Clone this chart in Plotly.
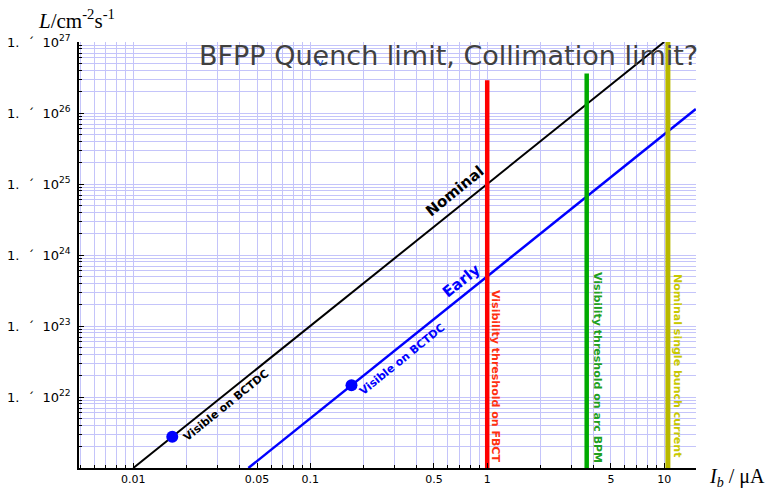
import plotly.graph_objects as go

# ---- data ----
nominal_I = [0.01, 10.0]          # µA
nominal_L = [1e21, 1e27]          # cm^-2 s^-1
early_I = [0.0447, 15.1]
early_L = [1e21, 1.14e26]
dots_I = [0.0166, 0.171]
dots_L = [2.75e21, 1.46e22]
fbct_I = [1.0, 1.0]
fbct_L = [1e21, 2.9e26]
bpm_I = [3.65, 3.65]
bpm_L = [1e21, 3.6e26]
bunch_I = [10.5, 10.5]
bunch_L = [1e21, 1e27]

x_tickvals = [0.01, 0.05, 0.1, 0.5, 1, 5, 10]
x_ticktext = ["0.01", "0.05", "0.1", "0.5", "1", "5", "10"]
y_exps = [22, 23, 24, 25, 26, 27]

# ---- layout geometry ----
W, H = 766, 495
ML, MR, MT, MB = 79, 70, 42, 27
PW, PH = W - ML - MR, H - MT - MB


def px(x):
    return (x - ML) / PW


def py(y):
    return (H - MB - y) / PH


grid_col = "#c4c4fa"
x_minor = [k * 10.0 ** e for e in range(-3, 2) for k in range(1, 10)]
y_minor = [k * 10.0 ** e for e in range(21, 27) for k in range(1, 10)]

fig = go.Figure()
fig.add_trace(go.Scatter(x=nominal_I, y=nominal_L, mode="lines",
                         line=dict(color="black", width=2), showlegend=False))
fig.add_trace(go.Scatter(x=early_I, y=early_L, mode="lines",
                         line=dict(color="#0000ff", width=2.5), showlegend=False))
fig.add_trace(go.Scatter(x=fbct_I, y=fbct_L, mode="lines",
                         line=dict(color="#ff0000", width=4.5), showlegend=False))
fig.add_trace(go.Scatter(x=bpm_I, y=bpm_L, mode="lines",
                         line=dict(color="#00aa00", width=4.5), showlegend=False))
fig.add_trace(go.Scatter(x=bunch_I, y=bunch_L, mode="lines",
                         line=dict(color="#b8b800", width=5), showlegend=False))
fig.add_trace(go.Scatter(x=dots_I, y=dots_L, mode="markers",
                         marker=dict(color="#0000ff", size=12), showlegend=False))

ann = []
bold = "DejaVu Sans"


def add_text(text, x, y, size, color, angle=0, family=bold, **kw):
    ann.append(dict(text=text, x=px(x), y=py(y), xref="paper", yref="paper",
                    showarrow=False, textangle=angle, xanchor="center",
                    yanchor="middle", font=dict(size=size, color=color, family=family), **kw))


add_text("<b>Visible on BCTDC</b>", 226, 405, 11, "black", -39)
add_text("<b>Visible on BCTDC</b>", 402, 359, 11, "#0000ff", -39)
add_text("<b>Nominal</b>", 455, 191, 15, "black", -39)
add_text("<b>Early</b>", 461, 281, 15, "#0000ff", -39)
add_text("<b>Visibility threshold on FBCT</b>", 496, 376, 11, "#ff3010", 90)
add_text("<b>Visibility threshold on arc BPM</b>", 598, 367, 11, "#20a020", 90)
add_text("<b>Nominal single bunch current</b>", 678, 365, 11, "#c8c800", 90)
add_text("BFPP Quench limit, Collimation limit?", 448, 55, 27, "#404040")
add_text("v", 320, 62, 11, "#2050d0")
add_text("<i>L</i>/cm<sup>-2</sup>s<sup>-1</sup>", 76, 19, 21, "black", family="Liberation Serif")
add_text("<i>I<sub>b</sub></i> / μA", 737, 477, 20, "black", family="Liberation Serif")

fig.update_layout(
    width=W, height=H,
    margin=dict(l=ML, r=MR, t=MT, b=MB, autoexpand=False),
    paper_bgcolor="white", plot_bgcolor="white",
    annotations=ann,
    xaxis=dict(type="log", range=[-2.307, 1.18], automargin=False,
               tickmode="array", tickvals=x_tickvals, ticktext=x_ticktext,
               showgrid=True, gridcolor=grid_col, gridwidth=1,
               showline=True, linecolor="black", linewidth=1.5,
               ticks="inside", ticklen=5, tickcolor="black",
               tickfont=dict(family="DejaVu Sans", size=11, color="black"),
               minor=dict(tickmode="array", tickvals=x_minor, showgrid=True,
                          gridcolor=grid_col, gridwidth=1, ticks="inside",
                          ticklen=3, tickcolor="black"),
               zeroline=False),
    yaxis=dict(type="log", range=[21.0, 27.0], automargin=False,
               tickmode="array", tickvals=[10.0 ** e for e in y_exps],
               ticktext=["1.\u00a0\u00a0´\u00a0\u00a010<sup>%d</sup>" % e for e in y_exps],
               showgrid=True, gridcolor=grid_col, gridwidth=1,
               showline=True, linecolor="black", linewidth=1.5,
               ticks="inside", ticklen=5, tickcolor="black",
               tickfont=dict(family="DejaVu Sans", size=13, color="black"),
               ticklabelstandoff=4,
               minor=dict(tickmode="array", tickvals=y_minor, showgrid=True,
                          gridcolor=grid_col, gridwidth=1, ticks="inside",
                          ticklen=3, tickcolor="black"),
               zeroline=False),
)

fig.write_html("out.html", config={"displayModeBar": False},
               post_script="document.body.style.margin='0';document.body.style.overflow='hidden';")
